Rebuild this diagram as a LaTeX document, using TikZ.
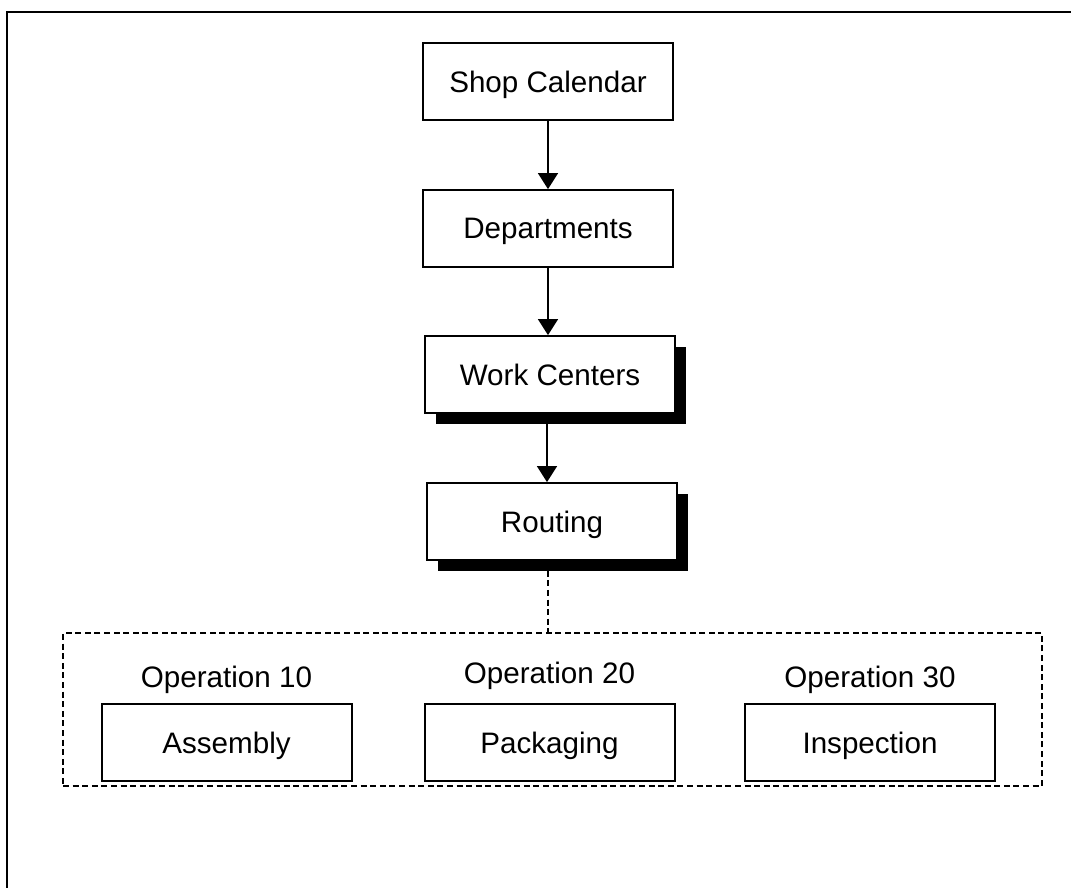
\documentclass[tikz,border=0pt]{standalone}
\usepackage{fontspec}
\setmainfont{Liberation Sans}
\usetikzlibrary{arrows.meta,shadows}

\begin{document}
\begin{tikzpicture}[x=0.5pt,y=-0.5pt,
  every node/.style={font=\fontsize{14.8}{17}\selectfont},
  stepbox/.style={draw, line width=1pt, fill=white, minimum width=125pt, minimum height=38.5pt, inner sep=0pt, text depth=0pt, yshift=-0.8pt},
  shadowed/.style={drop shadow={shadow xshift=5.5pt, shadow yshift=-5.5pt, fill=black, opacity=1}},
  flow/.style={line width=0.7pt, -{Triangle[length=8pt,width=10pt]}},
  link/.style={line width=0.85pt, dash pattern=on 3pt off 1.8pt},
  label/.style={inner sep=0pt}
]
\useasboundingbox (0,0) rectangle (1071,888);

% page frame (top and left rules)
\draw[line width=1.3pt] (7,888) -- (7,12) -- (1071,12);

% main chain
\node[stepbox] (cal) at (548,80) {Shop Calendar};
\node[stepbox] (dep) at (548,227) {Departments};
\node[stepbox, shadowed] (wc) at (550,373) {Work Centers};
\node[stepbox, shadowed] (rt) at (552,520) {Routing};

\draw[flow] (cal.south) -- (cal.south |- dep.north);
\draw[flow] (dep.south) -- (dep.south |- wc.north);
\draw[flow] ([xshift=-1.5pt]wc.south) -- ([xshift=-1.5pt]wc.south |- rt.north);

% operations group
\node[draw, link, minimum width=489.5pt, minimum height=76.5pt, inner sep=0pt] (grp) at (552.5,709.5) {};
\draw[link] ([xshift=-2pt]rt.south) -- ([xshift=-2pt]rt.south |- grp.north);

\node[stepbox] (asm) at (226.5,741) {Assembly};
\node[stepbox] (pkg) at (549.5,741) {Packaging};
\node[stepbox] (ins) at (870,741) {Inspection};

\node[label] (op10) at (226.5,680) {Operation 10};
\node[label] (op20) at (549.5,676) {Operation 20};
\node[label] (op30) at (870,680) {Operation 30};
\end{tikzpicture}
\end{document}
